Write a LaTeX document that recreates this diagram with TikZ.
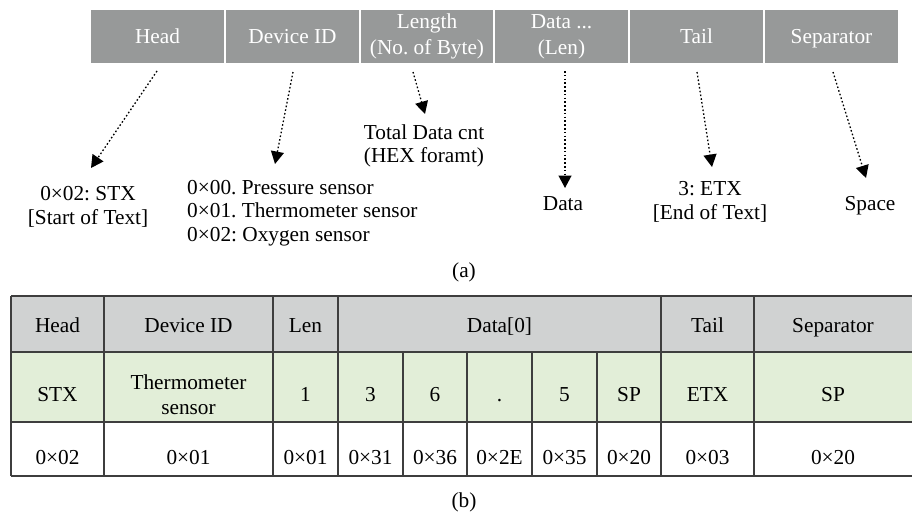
\documentclass[tikz,border=0pt]{standalone}
\usepackage{fontspec}
\setmainfont{Liberation Serif}
\usetikzlibrary{arrows.meta}
\frenchspacing
\definecolor{bargray}{RGB}{151,153,153}
\definecolor{hdrgray}{RGB}{208,210,210}
\definecolor{rowgreen}{RGB}{226,238,216}
\definecolor{gridline}{RGB}{62,62,62}
\tikzset{
  every node/.style={font=\fontsize{21.3}{23.5}\selectfont, inner sep=0pt},
  oneline/.style={text height=14pt, text depth=0pt},
  barcell/.style={fill=bargray, draw=white, line width=1.5pt, text=white,
    minimum height=55pt, align=center, font=\fontsize{21.3}{26}\selectfont},
  note/.style={align=center, text=black},
  ptr/.style={dash pattern=on 1.6pt off 2.2pt, line width=1.3pt,
    -{Triangle[width=13pt,length=12.5pt]}},
  grid/.style={draw=gridline, line width=1.4pt},
}
\begin{document}
\begin{tikzpicture}[x=1pt,y=-1pt]
\useasboundingbox (0,0) rectangle (912,514);

% ---- frame layout bar ----
\node[barcell, oneline, minimum width=135pt] (bhead) at (157.5,36.5) {Head};
\node[barcell, oneline, minimum width=135pt] (bdev)  at (292.5,36.5) {Device ID};
\node[barcell, minimum width=134pt] (blen)  at (427,36.5) {Length\\(No. of Byte)};
\node[barcell, minimum width=135pt] (bdata) at (561.5,36.5) {Data ...\\(Len)};
\node[barcell, oneline, minimum width=135pt] (btail) at (696.5,36.5) {Tail};
\node[barcell, oneline, minimum width=135pt] (bsep)  at (831.5,36.5) {Separator};

% ---- field descriptions ----
\node[note] (nhead) at (88,207) {0×02: STX\\{}[Start of Text]};
\node[note, anchor=west, align=left] (ndev) at (187,213)
  {0×00. Pressure sensor\\0×01. Thermometer sensor\\0×02: Oxygen sensor};
\node[note] (nlen) at (424,146) {Total Data cnt\\(HEX foramt)};
\node[note, oneline] (ndata) at (563,203) {Data};
\node[note] (ntail) at (710,202) {3: ETX\\{}[End of Text]};
\node[note, oneline] (nsep) at (870,203) {Space};

% pointer start and end points
\coordinate (hs) at (157,71);  \coordinate (he) at (91,168);
\coordinate (ds) at (293,72);  \coordinate (de) at (275,164);
\coordinate (ls) at (413,72);  \coordinate (le) at (425,114);
\coordinate (as) at (565,71);  \coordinate (ae) at (565,188);
\coordinate (ts) at (697,72);  \coordinate (te) at (712,167);
\coordinate (ss) at (833,72);  \coordinate (se) at (866,178);
\draw[ptr] (hs) -- (he);
\draw[ptr] (ds) -- (de);
\draw[ptr] (ls) -- (le);
\draw[ptr] (as) -- (ae);
\draw[ptr] (ts) -- (te);
\draw[ptr] (ss) -- (se);

\node (capa) at (464,272) {(a)};

% ---- example packet table ----
% row backgrounds
\fill[hdrgray]  (11,296) rectangle (912,352);
\fill[rowgreen] (11,352) rectangle (912,422);

\begin{scope}[every node/.append style={oneline}]
% header row
\node (hHead) at (57.5,325) {Head};
\node (hDev)  at (188.5,325) {Device ID};
\node (hLen)  at (305.5,325) {Len};
\node (hData) at (499.5,325) {Data[0]};
\node (hTail) at (707.5,325) {Tail};
\node (hSep)  at (833,325) {Separator};

% symbolic row
\node (gHead) at (57.5,394) {STX};
\node (gLen) at (305.5,394) {1};
\node (gD1) at (370.5,394) {3};
\node (gD2) at (435,394) {6};
\node (gD3) at (499.5,394) {.};
\node (gD4) at (564.5,394) {5};
\node (gD5) at (629,394) {SP};
\node (gTail) at (707.5,394) {ETX};
\node (gSep) at (833,394) {SP};

% byte row
\node (wHead) at (57.5,457) {0×02};
\node (wDev)  at (188.5,457) {0×01};
\node (wLen)  at (305.5,457) {0×01};
\node (wD1) at (370.5,457) {0×31};
\node (wD2) at (435,457) {0×36};
\node (wD3) at (499.5,457) {0×2E};
\node (wD4) at (564.5,457) {0×35};
\node (wD5) at (629,457) {0×20};
\node (wTail) at (707.5,457) {0×03};
\node (wSep) at (833,457) {0×20};
\end{scope}
\node[align=center, font=\fontsize{21.3}{25}\selectfont] (gDev) at (188.5,395) {Thermometer\\sensor};

% grid lines
\draw[grid] (11,296) -- (912,296);
\draw[grid] (11,352) -- (912,352);
\draw[grid] (11,422) -- (912,422);
\draw[grid] (11,476) -- (912,476);
\foreach \x in {11,104,273,338,661,754}
  \draw[grid] (\x,296) -- (\x,476);
\foreach \x in {403,467,532,597}
  \draw[grid] (\x,352) -- (\x,476);

\node (capb) at (464,502) {(b)};
\end{tikzpicture}
\end{document}
